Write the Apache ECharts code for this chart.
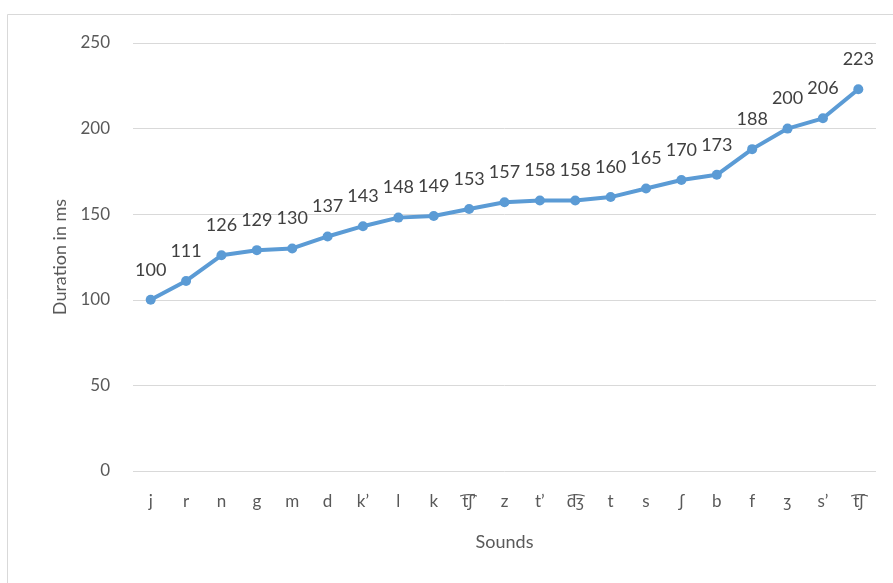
<!DOCTYPE html>
<html>
<head>
<meta charset="utf-8">
<script src="https://cdn.jsdelivr.net/npm/echarts@6/dist/echarts.min.js"></script>
<style>
  html, body { margin: 0; padding: 0; background: #fff; }
  #chart { width: 893px; height: 583px; }
</style>
</head>
<body>
<div id="chart"></div>
<script>
// Sounds ordered by mean duration
const sounds = ['j', 'r', 'n', 'g', 'm', 'd', 'k\u02bc', 'l', 'k', 't\u0361\u0283\u02bc', 'z', 't\u02bc', 'd\u0361\u0292', 't', 's', '\u0283', 'b', 'f', '\u0292', 's\u02bc', 't\u0361\u0283'];
// Duration in milliseconds
const durations = [100, 111, 126, 129, 130, 137, 143, 148, 149, 153, 157, 158, 158, 160, 165, 170, 173, 188, 200, 206, 223];
// Value axis ticks
const yMin = 0, yMax = 250, yStep = 50;

const font = 'Lato, "Open Sans", sans-serif';
const chart = echarts.init(document.getElementById('chart'), null, { renderer: 'canvas' });

chart.setOption({
  animation: false,
  backgroundColor: '#ffffff',
  graphic: [{
    type: 'rect',
    shape: { x: 7.5, y: 14.5, width: 1000, height: 1000 },
    style: { fill: 'none', stroke: '#d9d9d9', lineWidth: 1 },
    silent: true
  }],
  grid: { left: 133, right: 17, top: 43, bottom: 112 },
  xAxis: {
    type: 'category',
    data: sounds,
    boundaryGap: true,
    axisLine: { show: false },
    axisTick: { show: false },
    axisLabel: { color: '#595959', fontSize: 17, fontFamily: font, margin: 22 },
    name: 'Sounds',
    nameLocation: 'middle',
    nameGap: 62,
    nameTextStyle: { color: '#595959', fontSize: 18, fontFamily: font }
  },
  yAxis: {
    type: 'value',
    min: yMin,
    max: yMax,
    interval: yStep,
    axisLine: { show: false },
    axisTick: { show: false },
    splitLine: { lineStyle: { color: '#d9d9d9', width: 1 } },
    axisLabel: { color: '#595959', fontSize: 17, fontFamily: font, margin: 23 },
    name: 'Duration in ms',
    nameLocation: 'middle',
    nameGap: 64,
    nameRotate: 90,
    nameTextStyle: { color: '#595959', fontSize: 18, fontFamily: font }
  },
  series: [{
    type: 'line',
    data: durations,
    symbol: 'circle',
    symbolSize: 10,
    lineStyle: { color: '#5b9bd5', width: 4 },
    itemStyle: { color: '#5b9bd5' },
    label: {
      show: true,
      position: 'top',
      distance: 16,
      color: '#404040',
      fontSize: 18,
      fontFamily: font
    }
  }]
});
</script>
</body>
</html>
